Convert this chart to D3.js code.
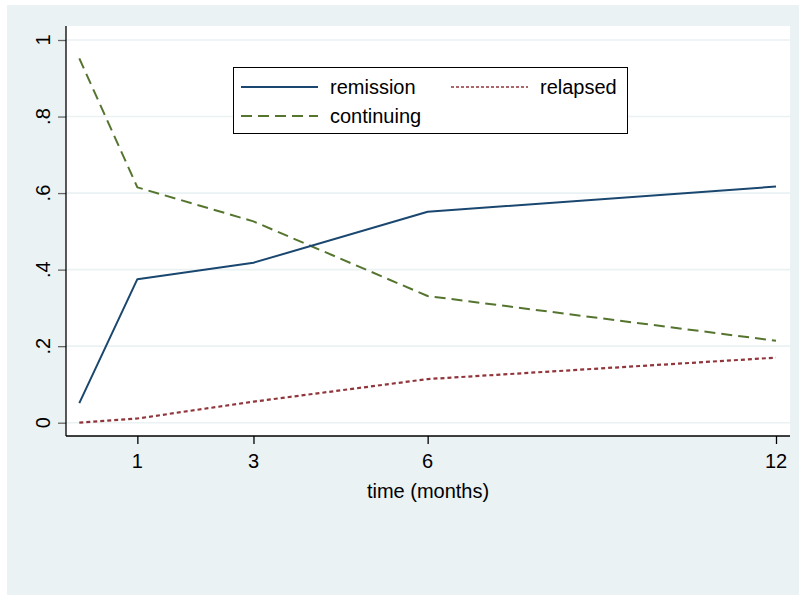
<!DOCTYPE html>
<html>
<head>
<meta charset="utf-8">
<script src="https://cdn.jsdelivr.net/npm/d3@7/dist/d3.min.js"></script>
<style>
  html, body { margin: 0; padding: 0; background: #ffffff; }
  svg { display: block; font-family: "Liberation Sans", Arial, sans-serif; }
</style>
</head>
<body>
<svg id="chart" width="799" height="595"></svg>
<script>
// ---- data ----
const months = [0, 1, 3, 6, 12];
const remission = [0.051, 0.375, 0.418, 0.551, 0.617];
const relapsed = [0.0, 0.011, 0.055, 0.114, 0.170];
const continuing = [0.952, 0.615, 0.526, 0.331, 0.214];
const xTicks = [1, 3, 6, 12];
const yTicks = [0, 0.2, 0.4, 0.6, 0.8, 1];
const yTickLabels = ["0", ".2", ".4", ".6", ".8", "1"];
const seriesNames = ["remission", "relapsed", "continuing"];
const xTitle = "time (months)";

const svg = d3.select("#chart");
const W = 799, H = 595;

// outer background
svg.append("rect").attr("x", 7).attr("y", 5).attr("width", W - 7).attr("height", H - 5).attr("fill", "#eaf2f3");

// plot region
const pr = { l: 66, r: 790, t: 26, b: 436 };
svg.append("rect").attr("x", pr.l).attr("y", pr.t).attr("width", pr.r - pr.l).attr("height", pr.b - pr.t).attr("fill", "#ffffff");

const x = d3.scaleLinear().domain([0, 12]).range([79.3, 776]);
const y = d3.scaleLinear().domain([0, 1]).range([422.7, 40]);

// gridlines
svg.append("g").selectAll("line").data(yTicks).join("line")
  .attr("x1", pr.l).attr("x2", pr.r)
  .attr("y1", d => y(d)).attr("y2", d => y(d))
  .attr("stroke", "#eaf2f3").attr("stroke-width", 1.6);

// y axis
const yAxis = d3.axisLeft(y).tickValues(yTicks).tickSize(8).tickFormat(() => "");
const gy = svg.append("g").attr("transform", `translate(${pr.l},0)`).call(yAxis);
gy.select(".domain").remove();
gy.selectAll(".tick line").attr("stroke", "#666").attr("stroke-width", 1.3);
svg.append("line").attr("x1", pr.l).attr("x2", pr.l).attr("y1", pr.t).attr("y2", pr.b).attr("stroke", "#000").attr("stroke-width", 1.3);
svg.append("g").selectAll("text").data(yTicks).join("text")
  .attr("transform", d => `translate(50,${y(d)}) rotate(-90)`)
  .attr("text-anchor", "middle")
  .attr("font-size", 20)
  .attr("fill", "#000")
  .text((d, i) => yTickLabels[i]);

// x axis
const xAxis = d3.axisBottom(x).tickValues(xTicks).tickSize(8).tickFormat(() => "");
const gx = svg.append("g").attr("transform", `translate(0,${pr.b})`).call(xAxis);
gx.select(".domain").remove();
gx.selectAll(".tick line").attr("stroke", "#000").attr("stroke-width", 1.3);
svg.append("line").attr("x1", pr.l).attr("x2", pr.r).attr("y1", pr.b).attr("y2", pr.b).attr("stroke", "#000").attr("stroke-width", 1.3);
svg.append("g").selectAll("text").data(xTicks).join("text")
  .attr("x", d => x(d)).attr("y", 468)
  .attr("text-anchor", "middle").attr("font-size", 20).attr("fill", "#000")
  .text(d => d);
svg.append("text").attr("x", (pr.l + pr.r) / 2).attr("y", 498)
  .attr("text-anchor", "middle").attr("font-size", 20).attr("fill", "#000").text(xTitle);

// series
const styles = {
  remission: { color: "#1a476f", dash: null, width: 2 },
  relapsed: { color: "#90353b", dash: "4,3", width: 2.2 },
  continuing: { color: "#55752f", dash: "11,6", width: 2 }
};
const data = { remission, relapsed, continuing };
const line = d3.line().x(d => x(d[0])).y(d => y(d[1]));
["relapsed", "continuing", "remission"].forEach(name => {
  const s = styles[name];
  svg.append("path")
    .datum(months.map((m, i) => [m, data[name][i]]))
    .attr("d", line)
    .attr("fill", "none")
    .attr("stroke", s.color)
    .attr("stroke-width", s.width)
    .attr("stroke-dasharray", s.dash)
    .attr("stroke-linejoin", "round");
});

// legend
const lg = svg.append("g");
lg.append("rect").attr("x", 233.5).attr("y", 67.5).attr("width", 394).attr("height", 66)
  .attr("fill", "#fff").attr("stroke", "#000").attr("stroke-width", 1);
const legendItems = [
  { name: "remission", lx: 241, ly: 87 },
  { name: "relapsed", lx: 451, ly: 87 },
  { name: "continuing", lx: 241, ly: 116 }
];
legendItems.forEach(it => {
  const s = styles[it.name];
  lg.append("line").attr("x1", it.lx).attr("x2", it.lx + 77).attr("y1", it.ly).attr("y2", it.ly)
    .attr("stroke", s.color).attr("stroke-width", it.name === "relapsed" ? 1.6 : 2)
    .attr("stroke-dasharray", it.name === "relapsed" ? "3,2" : s.dash);
  lg.append("text").attr("x", it.lx + 89).attr("y", it.ly + 7)
    .attr("font-size", 20).attr("fill", "#000").text(it.name);
});
</script>
</body>
</html>
